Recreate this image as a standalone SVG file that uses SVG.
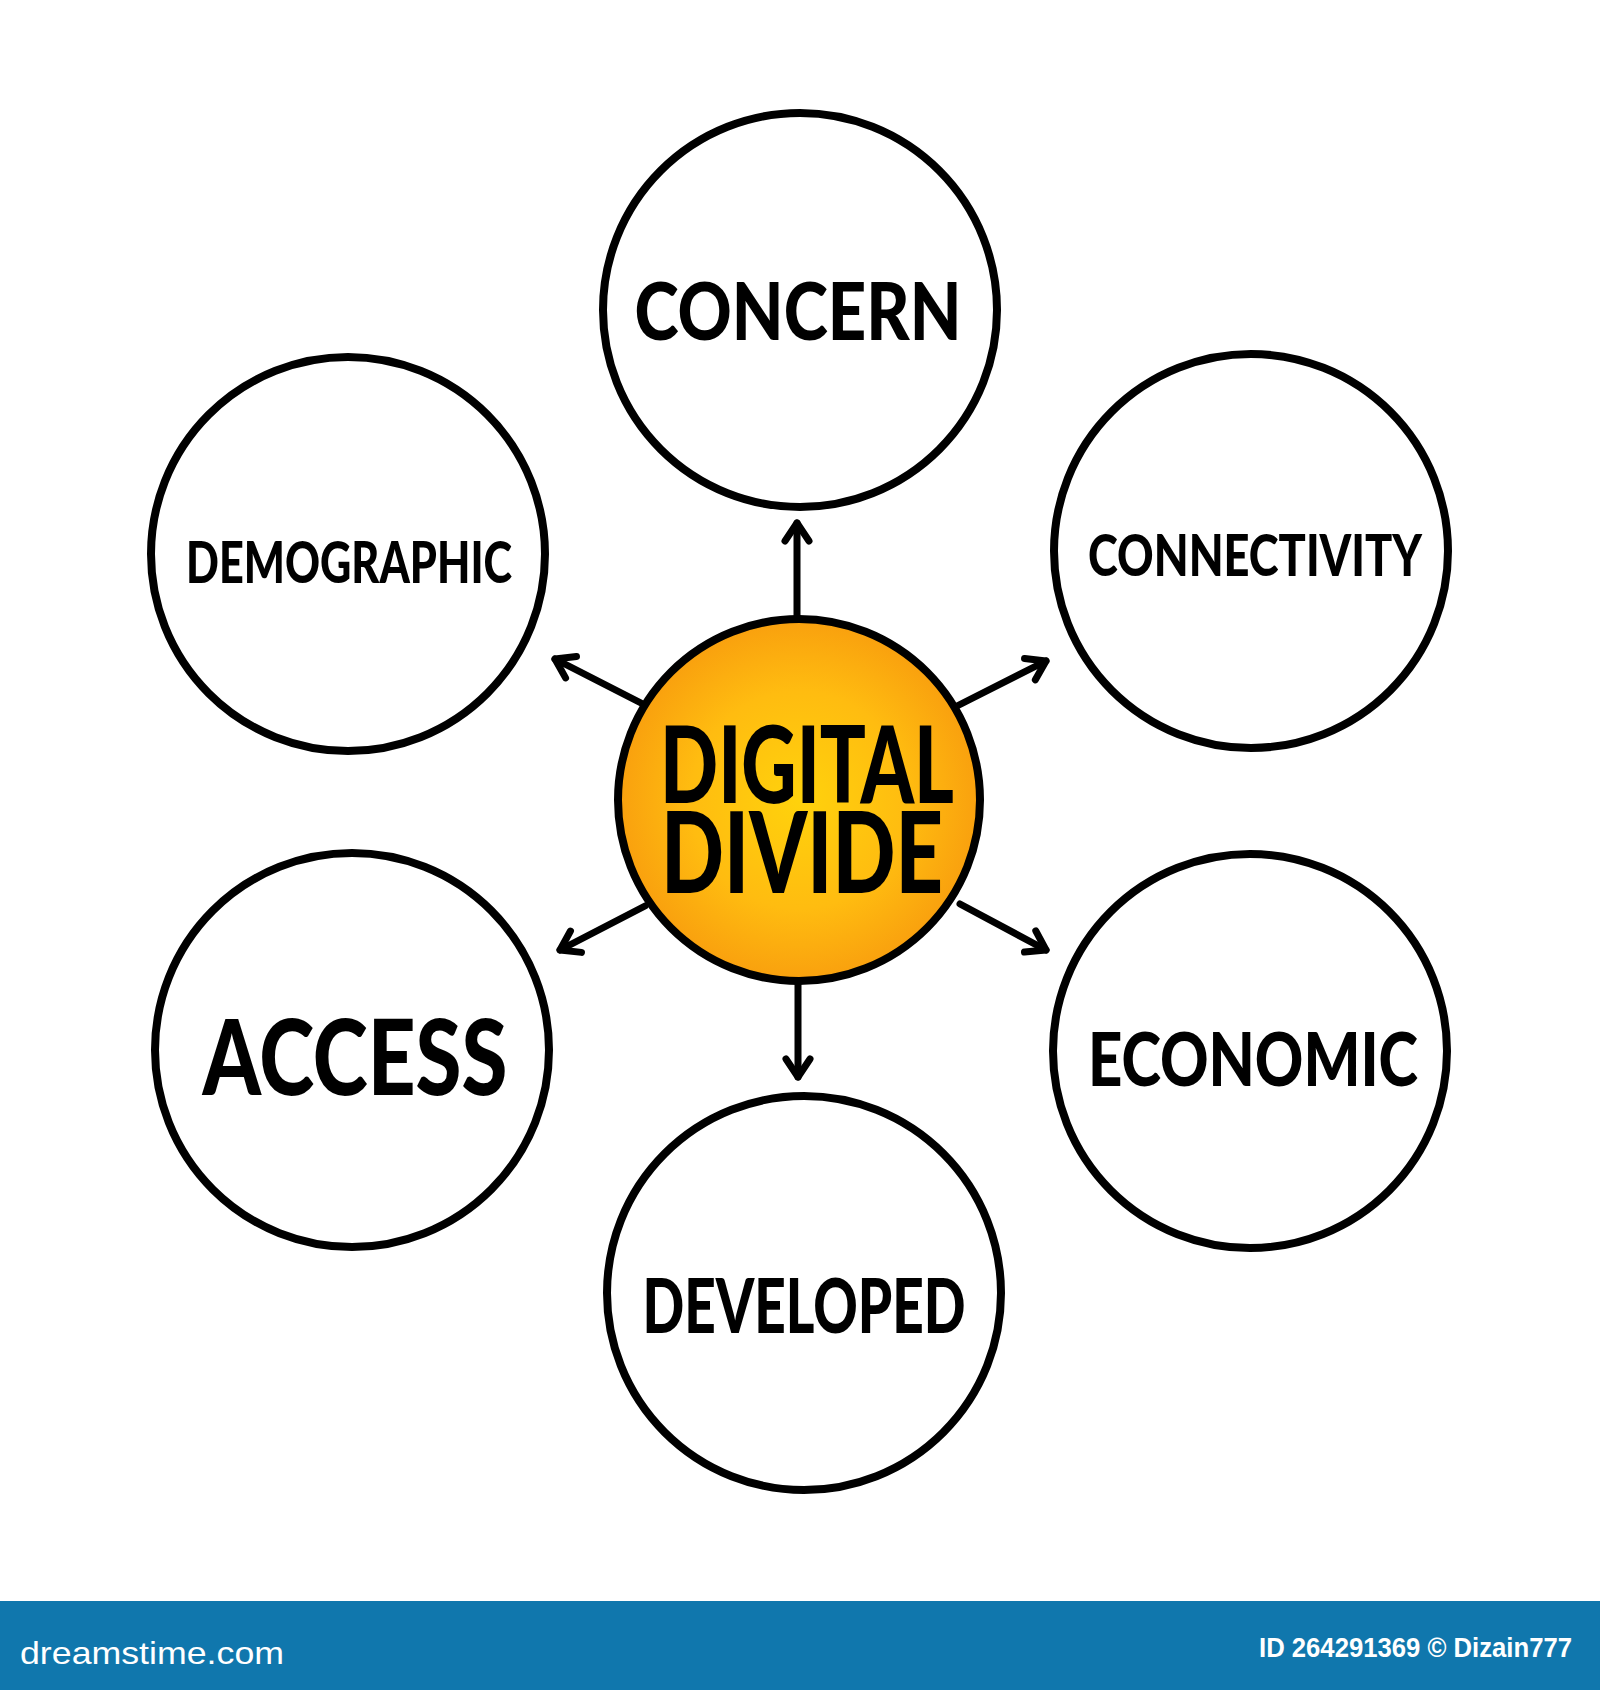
<svg xmlns="http://www.w3.org/2000/svg" width="1600" height="1690" viewBox="0 0 1600 1690">
<defs>
<radialGradient id="orange" cx="0.5" cy="0.5" r="0.5">
<stop offset="0" stop-color="#ffd20c"/>
<stop offset="0.6" stop-color="#ffbc10"/>
<stop offset="1" stop-color="#f9a00e"/>
</radialGradient>
<marker id="arrow" markerUnits="userSpaceOnUse" markerWidth="40" markerHeight="40" viewBox="0 0 40 40" refX="30" refY="20" orient="auto">
<path d="M12,8 L30,20 L12,32" fill="none" stroke="#000" stroke-width="7" stroke-linecap="round" stroke-linejoin="round"/>
</marker>
</defs>
<style>
.node { fill: #fff; stroke: #000; stroke-width: 8; }
.hub { fill: url(#orange); stroke: #000; stroke-width: 8; }
.lbl { font-family: Lato, "Liberation Sans", "DejaVu Sans", sans-serif; font-weight: 900; fill: #000; }
.conn { stroke: #000; stroke-width: 7; stroke-linecap: round; fill: none; marker-end: url(#arrow); }
.foot { font-family: "Liberation Sans", "DejaVu Sans", sans-serif; fill: #fff; }
</style>
<rect x="0" y="0" width="1600" height="1690" fill="#fff"/>
<g id="connectors">
<line class="conn" x1="797" y1="618" x2="797" y2="523"/>
<line class="conn" x1="798" y1="983" x2="798" y2="1077"/>
<line class="conn" x1="641" y1="703" x2="555" y2="659"/>
<line class="conn" x1="957" y1="706" x2="1046" y2="661"/>
<line class="conn" x1="645" y1="906" x2="560" y2="950"/>
<line class="conn" x1="960" y1="904" x2="1046" y2="950"/>
</g>
<g id="node-digital-divide">
<circle class="hub" cx="799" cy="800" r="181"/>
<text class="lbl" text-anchor="middle"><tspan x="807" y="803" font-size="106" textLength="294" lengthAdjust="spacingAndGlyphs">DIGITAL</tspan><tspan x="802" y="893" font-size="112" textLength="282" lengthAdjust="spacingAndGlyphs">DIVIDE</tspan></text>
</g>
<g id="node-concern">
<circle class="node" cx="800" cy="310" r="197"/>
<text class="lbl" x="798" y="340" font-size="80" text-anchor="middle" textLength="327" lengthAdjust="spacingAndGlyphs">CONCERN</text>
</g>
<g id="node-demographic">
<circle class="node" cx="348" cy="554" r="197"/>
<text class="lbl" x="349" y="583" font-size="58" text-anchor="middle" textLength="326" lengthAdjust="spacingAndGlyphs">DEMOGRAPHIC</text>
</g>
<g id="node-connectivity">
<circle class="node" cx="1251" cy="551" r="197"/>
<text class="lbl" x="1255" y="576" font-size="57" text-anchor="middle" textLength="334" lengthAdjust="spacingAndGlyphs">CONNECTIVITY</text>
</g>
<g id="node-access">
<circle class="node" cx="352" cy="1050" r="197"/>
<text class="lbl" x="355" y="1095" font-size="104" text-anchor="middle" textLength="305" lengthAdjust="spacingAndGlyphs">ACCESS</text>
</g>
<g id="node-economic">
<circle class="node" cx="1250" cy="1051" r="197"/>
<text class="lbl" x="1253" y="1086" font-size="74" text-anchor="middle" textLength="330" lengthAdjust="spacingAndGlyphs">ECONOMIC</text>
</g>
<g id="node-developed">
<circle class="node" cx="804" cy="1293" r="197"/>
<text class="lbl" x="804" y="1333" font-size="76" text-anchor="middle" textLength="323" lengthAdjust="spacingAndGlyphs">DEVELOPED</text>
</g>
<g id="footer">
<rect x="0" y="1601" width="1600" height="89" fill="#1077ad"/>
<text class="foot" x="20" y="1664" font-size="32" textLength="264" lengthAdjust="spacingAndGlyphs">dreamstime.com</text>
<text class="foot" x="1259" y="1657" font-size="27" font-weight="bold" textLength="313" lengthAdjust="spacingAndGlyphs">ID 264291369 © Dizain777</text>
</g>
</svg>
